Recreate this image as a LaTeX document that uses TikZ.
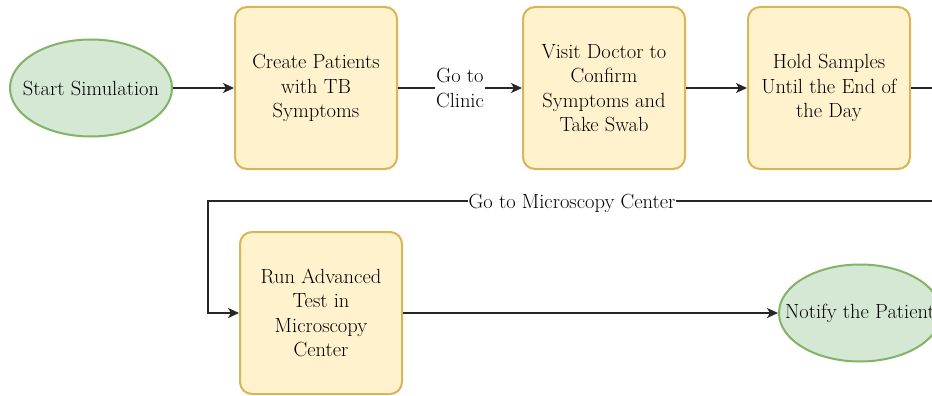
\documentclass[tikz,border=0pt]{standalone}
\usetikzlibrary{shapes.geometric,arrows.meta}
\definecolor{boxfill}{HTML}{FFF2CC}
\definecolor{boxline}{HTML}{D6B656}
\definecolor{termfill}{HTML}{D5E8D4}
\definecolor{termline}{HTML}{82B366}
\begin{document}
\begin{tikzpicture}[x=1pt,y=-1pt,
  every node/.style={font=\fontsize{20.5}{24.5}\selectfont},
  stepbox/.style={draw=boxline,fill=boxfill,line width=2pt,rounded corners=12pt,
    minimum width=162pt,minimum height=162pt,inner sep=0pt,align=center},
  terminal/.style={ellipse,draw=termline,fill=termfill,line width=2pt,
    minimum width=162pt,minimum height=97pt,inner xsep=-30pt,inner ysep=0pt,align=center},
  flow/.style={line width=1.6pt,draw=black!85,-{Stealth[length=11pt,width=10pt,inset=3pt]}},
  tag/.style={fill=white,inner sep=1pt,align=center}]
\useasboundingbox (0,0) rectangle (932,396);
\clip (0,0) rectangle (932,396);
\fill[white] (0,0) rectangle (932,396);

% top row
\node[terminal] (start) at (91,88) {Start Simulation};
\node[stepbox] (create) at (316,88) {Create Patients\\with TB\\Symptoms};
\node[stepbox] (visit) at (604,88) {Visit Doctor to\\Confirm\\Symptoms and\\Take Swab};
\node[stepbox] (hold) at (829,88) {Hold Samples\\Until the End of\\the Day};

% bottom row
\node[stepbox] (advanced) at (321,313) {Run Advanced\\Test in\\Microscopy\\Center};
\node[terminal] (notify) at (860,313) {Notify the Patient};

% return path bends
\coordinate (r1) at (955,88);
\coordinate (r2) at (955,201);
\coordinate (r3) at (208,201);
\coordinate (r4) at (208,313);

\draw[flow] (start) -- (create);
\draw[flow] (create) -- node[tag] {Go to\\Clinic} (visit);
\draw[flow] (visit) -- (hold);
\draw[flow] (hold.east) -- (r1) -- (r2) -- (r3) -- (r4) -- (advanced.west);
\node[tag] (microlabel) at (572,203) {Go to Microscopy Center};
\draw[flow] (advanced) -- (notify);
\end{tikzpicture}
\end{document}
